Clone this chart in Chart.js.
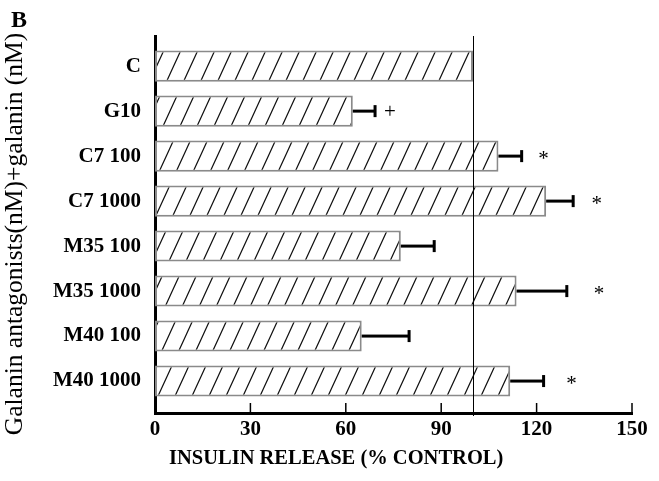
<!DOCTYPE html>
<html><head><meta charset="utf-8">
<script src="https://cdn.jsdelivr.net/npm/chart.js@4.4.0/dist/chart.umd.min.js"></script>
<style>html,body{margin:0;padding:0;background:#fff;}#wrap{width:659px;height:481px;}</style>
</head><body><div id="wrap"><canvas id="c" width="659" height="481"></canvas></div>
<script>
const categories = ['C', 'G10', 'C7 100', 'C7 1000', 'M35 100', 'M35 1000', 'M40 100', 'M40 1000'];
const releaseValues = [100, 62.2, 108, 123, 77.3, 113.7, 65, 111.7];
const errorValues = [0, 7, 7.3, 8.5, 10.5, 15.8, 14.9, 10.5];
const markers = ['', '+', '*', '*', '', '*', '', '*'];
const markerAt = [null, 73.9, 122.2, 138.9, null, 139.6, null, 131];
const xTicks = [0, 30, 60, 90, 120, 150];
const referenceValue = 100;
const xTitle = 'INSULIN RELEASE (% CONTROL)';
const yTitle = 'Galanin antagonists(nM)+galanin (nM)';
const panelLabel = 'B';

const SERIF = '"Liberation Serif", "Times New Roman", serif';

function makeHatch() {
  const w = 17, h = 37;
  const c = document.createElement('canvas');
  c.width = w; c.height = h;
  const g = c.getContext('2d');
  g.fillStyle = '#fff'; g.fillRect(0, 0, w, h);
  g.strokeStyle = '#111'; g.lineWidth = 1.2;
  g.beginPath();
  for (const dx of [-w, 0, w]) {
    g.moveTo(-w + dx, 2 * h); g.lineTo(2 * w + dx, -h);
  }
  g.stroke();
  return g.createPattern(c, 'repeat');
}
const hatch = makeHatch();

const overlay = {
  id: 'overlay',
  afterDatasetsDraw(chart) {
    const ctx = chart.ctx, xs = chart.scales.x, ys = chart.scales.y, a = chart.chartArea;
    ctx.save();
    const rx = Math.round(xs.getPixelForValue(referenceValue)) + 0.5;
    ctx.strokeStyle = '#000'; ctx.lineWidth = 1;
    ctx.beginPath(); ctx.moveTo(rx, a.top); ctx.lineTo(rx, a.bottom + 3); ctx.stroke();
    ctx.fillStyle = '#000';
    releaseValues.forEach((v, i) => {
      const e = errorValues[i];
      if (!e) return;
      const x0 = xs.getPixelForValue(v), x1 = xs.getPixelForValue(v + e), y = ys.getPixelForValue(i);
      ctx.fillRect(x0, y - 1.5, x1 - x0, 3);
      ctx.fillRect(x1 - 1.5, y - 6, 3, 12);
    });
    ctx.textAlign = 'center'; ctx.textBaseline = 'middle';
    markers.forEach((m, i) => {
      if (!m) return;
      ctx.font = (m === '*' ? '21px ' : '21px ') + SERIF;
      ctx.fillText(m, xs.getPixelForValue(markerAt[i]), ys.getPixelForValue(i) + (m === '*' ? 3 : 1));
    });
    ctx.lineWidth = 1.5;
    xTicks.forEach(t => {
      if (t === xs.min) return;
      const x = xs.getPixelForValue(t);
      ctx.beginPath(); ctx.moveTo(x, a.bottom); ctx.lineTo(x, a.bottom - 10); ctx.stroke();
    });
    ctx.textAlign = 'left'; ctx.textBaseline = 'middle';
    ctx.font = 'bold 20.5px ' + SERIF;
    ctx.fillText(xTitle, a.left + 14, a.bottom + 46);
    ctx.font = 'bold 24px ' + SERIF;
    ctx.textBaseline = 'alphabetic';
    ctx.fillText(panelLabel, 11, 27);
    ctx.translate(15, 234);
    ctx.rotate(-Math.PI / 2);
    ctx.textAlign = 'center'; ctx.textBaseline = 'middle';
    ctx.font = '25.5px ' + SERIF;
    ctx.fillText(yTitle, 0, 0);
    ctx.restore();
  }
};

new Chart(document.getElementById('c'), {
  type: 'bar',
  data: {
    datasets: [{
      data: categories.map((c, i) => ({ x: releaseValues[i], y: i })),
      backgroundColor: hatch,
      borderColor: '#8a8a8a',
      borderWidth: 2,
      borderSkipped: false,
      barPercentage: 0.69,
      categoryPercentage: 1
    }]
  },
  options: {
    indexAxis: 'y',
    responsive: false,
    animation: false,
    devicePixelRatio: 1,
    layout: { padding: { left: 0, top: 36, right: 27, bottom: 0 } },
    plugins: { legend: { display: false }, tooltip: { enabled: false } },
    scales: {
      x: {
        type: 'linear', position: 'bottom', min: 0, max: 150, offset: false,
        afterBuildTicks: s => { s.ticks = xTicks.map(v => ({ value: v })); },
        afterFit: s => { s.height = 68; },
        ticks: { color: '#000', padding: -4, font: { family: SERIF, size: 21, weight: 'bold' } },
        grid: { display: false },
        border: { display: true, color: '#000', width: 3 }
      },
      y: {
        type: 'linear', position: 'left', min: -0.67, max: 7.71, reverse: true, offset: false,
        afterBuildTicks: s => { s.ticks = categories.map((c, i) => ({ value: i })); },
        afterFit: s => { s.width = 155; },
        ticks: { color: '#000', padding: 6, callback: v => categories[v], font: { family: SERIF, size: 21, weight: 'bold' } },
        grid: { display: false, offset: false },
        border: { display: true, color: '#000', width: 3 }
      }
    }
  },
  plugins: [overlay]
});
</script>
</body></html>
